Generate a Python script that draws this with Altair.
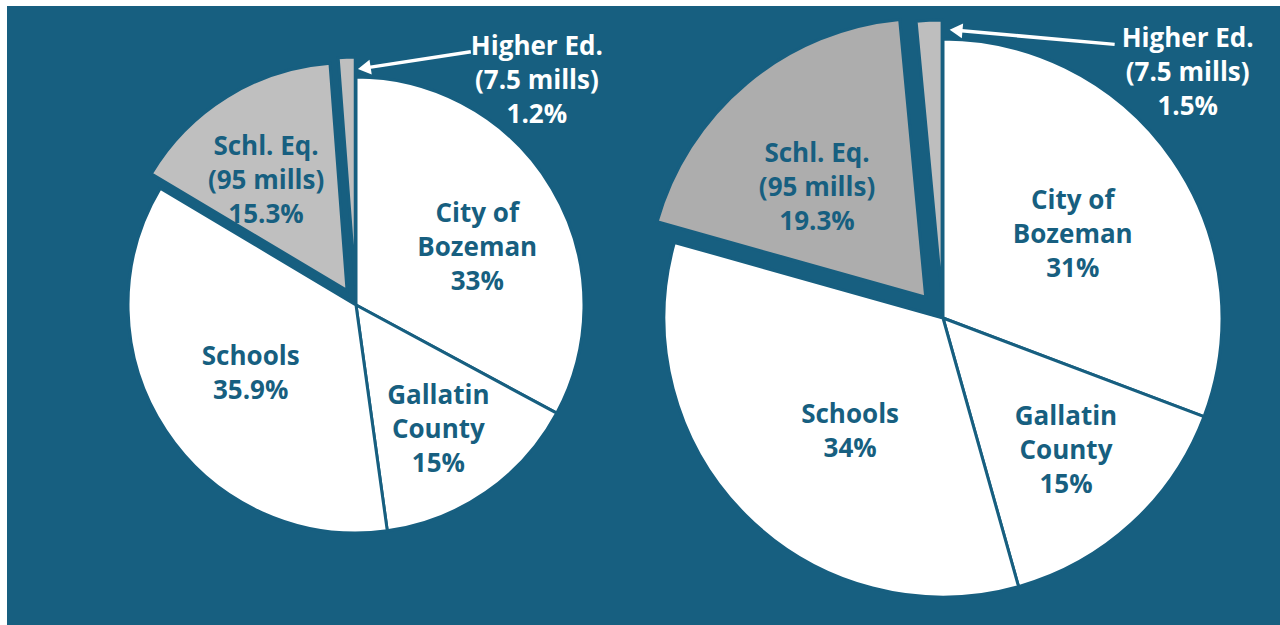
import math
import altair as alt
import pandas as pd

# ---------------- data ----------------
CATEGORIES = ["City of Bozeman", "Gallatin County", "Schools", "Schl. Eq.", "Higher Ed."]
NAME_LABELS = ["City of\nBozeman", "Gallatin\nCounty", "Schools", "Schl. Eq.\n(95 mills)", "Higher Ed.\n(7.5 mills)"]
LEFT_VALUES = [33, 15, 35.9, 15.3, 1.2]
RIGHT_VALUES = [31, 15, 34, 19.3, 1.5]
LEFT_PCT = ["33%", "15%", "35.9%", "15.3%", "1.2%"]
RIGHT_PCT = ["31%", "15%", "34%", "19.3%", "1.5%"]
PIES = ["left", "right"]

# ---------------- style / layout ----------------
BG = "#175F80"
PAD_L, PAD_T = 7, 6
W, H = 1280 - PAD_L, 625 - PAD_T
FONT = "Open Sans"
LINE_H = 34
CENTER = {"left": (356 - PAD_L, 305 - PAD_T), "right": (943 - PAD_L, 318 - PAD_T)}
RADIUS = {"left": 228, "right": 279}
EXPLODE = {"left": {"Schl. Eq.": 17, "Higher Ed.": 20}, "right": {"Schl. Eq.": 27, "Higher Ed.": 19}}
FILL = {
    "left": {"Schl. Eq.": "#BFBFBF", "Higher Ed.": "#BFBFBF"},
    "right": {"Schl. Eq.": "#ADADAD", "Higher Ed.": "#BEBEBE"},
}
# label block centres in polar form (degrees clockwise from top, radius px)
LABEL_POLAR = {
    "left": [(64.8, 134), (146.7, 150), (236.7, 126), (324.0, 153), (38.9, 288)],
    "right": [(57.4, 154), (137.2, 181), (219.2, 147), (315.9, 181), (45.0, 346)],
}
ARROW_POLAR = {"left": ((24.4, 278), (2.0, 237)), "right": ((32.1, 323), (2.6, 288))}

rows = []
for pie, vals, pcts in (("left", LEFT_VALUES, LEFT_PCT), ("right", RIGHT_VALUES, RIGHT_PCT)):
    cx, cy = CENTER[pie]
    for i, (cat, name, v, p) in enumerate(zip(CATEGORIES, NAME_LABELS, vals, pcts)):
        la, lr = LABEL_POLAR[pie][i]
        (a0, r0), (a1, r1) = ARROW_POLAR[pie]
        text = name + "\n" + p
        rows.append(dict(
            pie=pie, order=i, cat=cat, value=v,
            label=text, nlines=text.count("\n") + 1,
            key=pie + "|" + cat,
            cx=cx, cy=cy, r=RADIUS[pie],
            explode=EXPLODE[pie].get(cat, 0),
            la=la, lr=lr, a0=a0, r0=r0, a1=a1, r1=r1,
            txtcol="#FFFFFF" if cat == "Higher Ed." else BG,
        ))
df = pd.DataFrame(rows)

keys = list(df["key"])
fills = [FILL[k.split("|")[0]].get(k.split("|")[1], "#FFFFFF") for k in keys]

base = alt.Chart(df).transform_window(
    cum="sum(value)", groupby=["pie"], sort=[alt.SortField("order")], frame=[None, 0]
).transform_joinaggregate(
    total="sum(value)", groupby=["pie"]
).transform_calculate(
    f0="(datum.cum - datum.value) / datum.total",
    f1="datum.cum / datum.total",
).transform_calculate(
    mid="(datum.f0 + datum.f1) * PI",
).transform_calculate(
    px="datum.cx + datum.explode * sin(datum.mid)",
    py="datum.cy - datum.explode * cos(datum.mid)",
    lx="datum.cx + datum.lr * sin(datum.la * PI / 180)",
    ly=f"datum.cy - datum.lr * cos(datum.la * PI / 180) - (datum.nlines - 1) * {LINE_H} / 2",
    ax0="datum.cx + datum.r0 * sin(datum.a0 * PI / 180)",
    ay0="datum.cy - datum.r0 * cos(datum.a0 * PI / 180)",
    ax1="datum.cx + datum.r1 * sin(datum.a1 * PI / 180)",
    ay1="datum.cy - datum.r1 * cos(datum.a1 * PI / 180)",
)

theta_scale = alt.Scale(domain=[0, 1], range=[0, 2 * math.pi])

arcs = base.mark_arc(stroke=BG, strokeWidth=3).encode(
    theta=alt.Theta("f0:Q", scale=theta_scale),
    theta2="f1:Q",
    x=alt.X("px:Q", scale=None),
    y=alt.Y("py:Q", scale=None),
    radius=alt.Radius("r:Q", scale=None),
    color=alt.Color("key:N", scale=alt.Scale(domain=keys, range=fills), legend=None),
)

labels = base.mark_text(
    font=FONT, fontWeight="bold", fontSize=26, lineBreak="\n", lineHeight=LINE_H,
    align="center", baseline="middle",
).encode(
    x=alt.X("lx:Q", scale=None),
    y=alt.Y("ly:Q", scale=None),
    text="label:N",
    color=alt.Color("txtcol:N", scale=None),
)

arrow_base = base.transform_filter(alt.datum.cat == "Higher Ed.").transform_calculate(
    ang="(atan2(-(datum.ay1 - datum.ay0), -(datum.ax1 - datum.ax0)) * 180 / PI + 360) % 360"
)

arrow_line = arrow_base.mark_rule(color="white", strokeWidth=3.5).encode(
    x=alt.X("ax0:Q", scale=None),
    y=alt.Y("ay0:Q", scale=None),
    x2="ax1:Q",
    y2="ay1:Q",
)

arrow_head = arrow_base.mark_point(
    shape="triangle-left", filled=True, color="white", opacity=1, size=220, strokeWidth=0
).encode(
    x=alt.X("ax1:Q", scale=None),
    y=alt.Y("ay1:Q", scale=None),
    angle=alt.Angle("ang:Q", scale=None),
)

chart = alt.layer(arcs, arrow_line, arrow_head, labels).properties(
    width=W, height=H,
    autosize=alt.AutoSizeParams(type="none"),
    padding={"left": PAD_L, "top": PAD_T, "right": 0, "bottom": 0},
    background="white",
).configure_view(fill=BG, stroke=None)

chart.save("out.html", embed_options={"renderer": "svg", "actions": False})
